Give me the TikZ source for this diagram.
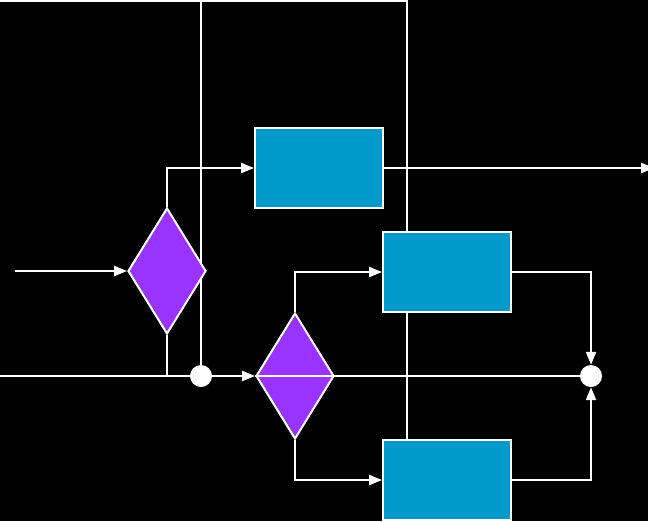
\documentclass[tikz,border=0pt]{standalone}
\usetikzlibrary{shapes.geometric, arrows.meta, positioning, calc}

\definecolor{blockblue}{HTML}{0099CC}
\definecolor{decpurple}{HTML}{9933FF}

\pgfdeclarelayer{bg}
\pgfdeclarelayer{wires}
\pgfsetlayers{bg,wires,main}

\begin{document}
\begin{tikzpicture}[x=0.025cm, y=-0.025cm, >={Triangle[length=0.32cm, width=0.25cm]}]

% Styles
\tikzstyle{block} = [rectangle, minimum width=3.2cm, minimum height=2cm, draw=white, line width=0.05cm, fill=blockblue]
\tikzstyle{decision} = [diamond, minimum width=1.95cm, minimum height=3.15cm, inner sep=0pt, draw=white, line width=0.05cm, fill=decpurple]
\tikzstyle{junction} = [circle, minimum size=0.55cm, inner sep=0pt, fill=white]
\tikzstyle{wire} = [white, line width=0.05cm]
\tikzstyle{arrow} = [wire, ->]

\useasboundingbox (0,0) rectangle (648,521);
\begin{pgfonlayer}{bg}
\fill[black] (0,0) rectangle (648,521);
\end{pgfonlayer}

% --- Nodes ---
\node (dec1) [decision] at (167,271) {};
\node (dec2) [decision] at (295,376) {};
\node (upper) [block] at (319,168) {};
\node (middle) [block] at (447,272) {};
\node (lower) [block] at (447,480) {};
\node (join) [junction] at (201,376) {};
\node (sum) [junction] at (591,376) {};

% free ends
\coordinate (in) at (15,271);
\coordinate (out) at (654,168);
\coordinate (feed) at (0,376);
\coordinate (topleft) at (0,1);
\coordinate (topright) at (407,1);

% --- Arrows ---
\draw[arrow] (in) -- (dec1.west);
\draw[arrow] (dec1.north) |- (upper.west);
\draw[arrow] (upper.east) -- (out);
\draw[wire] (feed) -- (join);
\draw[wire] (dec1.south) |- (join);
\draw[arrow] (join) -- (dec2.west);
\draw[wire] (dec2.west) -- (sum);
\draw[arrow] (dec2.north) |- (middle.west);
\draw[arrow] (dec2.south) |- (lower.west);
\draw[arrow] (middle.east) -| (sum);
\draw[arrow] (lower.east) -| (sum);

% --- Loop over the top (runs behind the middle block) ---
\begin{pgfonlayer}{wires}
\draw[wire] (join) -- (join |- topleft);
\draw[wire] (topleft) -- (topright) -- (topright |- lower.north);
\end{pgfonlayer}

\end{tikzpicture}
\end{document}
